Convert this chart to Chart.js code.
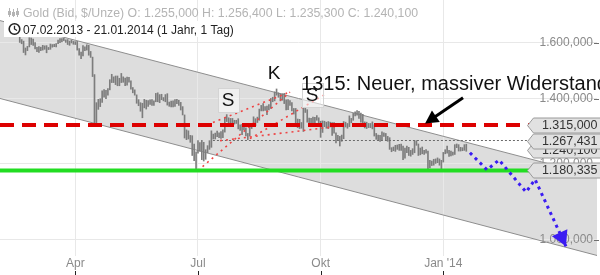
<!DOCTYPE html>
<html>
<head>
<meta charset="utf-8">
<script src="https://cdn.jsdelivr.net/npm/chart.js@4.4.1/dist/chart.umd.min.js"></script>
<style>
  html, body { margin: 0; padding: 0; background: #fff; }
  #wrap { width: 600px; height: 275px; position: relative; }
</style>
</head>
<body>
<div id="wrap"><canvas id="c" width="600" height="275"></canvas></div>
<script>
// Gold (Bid, $/Unze) daily ranges, 07.02.2013 - 21.01.2014
const firstDay = '2013-02-07';
const lastDay = '2014-01-21';
const holidays = ['2013-02-18', '2013-03-29', '2013-05-27', '2013-07-04', '2013-09-02',
                  '2013-11-28', '2013-12-25', '2014-01-01', '2014-01-20'];

const highs = [
  1680, 1672,
  1667, 1652, 1652, 1646, 1638,
  1612, 1606, 1580, 1586,
  1619, 1618, 1614, 1600, 1582,
  1585, 1583, 1590, 1588, 1589,
  1582, 1595, 1593, 1594, 1597,
  1610, 1616, 1616, 1617, 1611,
  1612, 1606, 1610, 1605,
  1604, 1605, 1578, 1565, 1589,
  1584, 1592, 1590, 1567, 1546,
  1483, 1387, 1398, 1400, 1427,
  1431, 1428, 1434, 1465, 1484,
  1475, 1478, 1478, 1470, 1487,
  1475, 1471, 1474, 1473, 1461,
  1438, 1430, 1413, 1397, 1387,
  1385, 1398, 1395, 1394, 1396,
  1397, 1393, 1418, 1420,
  1414, 1415, 1404, 1414, 1417,
  1389, 1392, 1393, 1397, 1398,
  1395, 1388, 1374, 1347, 1300,
  1297, 1283, 1282, 1257, 1234,
  1267, 1261, 1268, 1262,
  1240, 1252, 1267, 1297, 1287,
  1290, 1296, 1291, 1295, 1300,
  1337, 1348, 1338, 1336, 1336,
  1330, 1330, 1335, 1316, 1317,
  1314, 1306, 1289, 1315, 1320,
  1341, 1335, 1340, 1366, 1378,
  1384, 1374, 1376, 1381, 1401,
  1405, 1423, 1433, 1420, 1417,
  1417, 1418, 1396, 1397,
  1394, 1387, 1368, 1368, 1334,
  1333, 1323, 1371, 1372, 1364,
  1337, 1336, 1340, 1339, 1345,
  1338, 1327, 1328, 1327, 1324,
  1326, 1324, 1323, 1323, 1291,
  1283, 1280, 1284, 1326, 1324,
  1320, 1344, 1336, 1352, 1357,
  1361, 1359, 1353, 1349, 1325,
  1324, 1320, 1320, 1325, 1316,
  1289, 1284, 1283, 1294, 1291,
  1289, 1280, 1276, 1246, 1248,
  1253, 1254, 1256, 1257,
  1251, 1245, 1251, 1247, 1238,
  1243, 1266, 1267, 1257, 1245,
  1248, 1238, 1240, 1236, 1209,
  1207, 1212, 1213, 1216,
  1213, 1209, 1232, 1240,
  1251, 1238, 1236, 1233, 1255,
  1257, 1255, 1247, 1246, 1255,
  1256.4
];

const lows = [
  1664, 1661,
  1643, 1640, 1641, 1632, 1601,
  1596, 1563, 1554, 1570,
  1584, 1593, 1590, 1576, 1566,
  1563, 1570, 1572, 1575, 1562,
  1574, 1575, 1583, 1585, 1584,
  1596, 1600, 1603, 1608, 1601,
  1593, 1590, 1599, 1594,
  1593, 1572, 1553, 1540, 1550,
  1570, 1572, 1553, 1545, 1476,
  1322, 1321, 1365, 1374, 1388,
  1405, 1400, 1412, 1430, 1455,
  1455, 1448, 1444, 1444, 1455,
  1456, 1444, 1446, 1456, 1432,
  1420, 1412, 1385, 1377, 1359,
  1338, 1370, 1366, 1375, 1381,
  1378, 1378, 1390, 1390,
  1387, 1397, 1393, 1390, 1379,
  1375, 1373, 1373, 1375, 1384,
  1378, 1363, 1347, 1275, 1270,
  1272, 1262, 1223, 1208, 1180,
  1230, 1236, 1211, 1207,
  1212, 1231, 1241, 1247, 1272,
  1272, 1279, 1276, 1274, 1276,
  1293, 1326, 1314, 1312, 1316,
  1318, 1320, 1303, 1298, 1285,
  1300, 1281, 1270, 1281, 1304,
  1310, 1313, 1323, 1330, 1360,
  1360, 1362, 1348, 1363, 1368,
  1390, 1393, 1412, 1405, 1393,
  1395, 1384, 1363, 1364,
  1378, 1360, 1350, 1320, 1307,
  1304, 1305, 1295, 1355, 1324,
  1313, 1316, 1318, 1316, 1330,
  1318, 1277, 1292, 1310, 1305,
  1304, 1309, 1283, 1290, 1260,
  1268, 1251, 1265, 1273, 1309,
  1305, 1310, 1322, 1330, 1344,
  1346, 1336, 1324, 1318, 1306,
  1304, 1307, 1307, 1303, 1281,
  1271, 1267, 1265, 1270, 1280,
  1270, 1265, 1241, 1234, 1237,
  1235, 1241, 1238, 1238,
  1211, 1215, 1231, 1223, 1221,
  1226, 1231, 1253, 1223, 1225,
  1228, 1226, 1230, 1185, 1187,
  1194, 1195, 1200, 1202,
  1195, 1182, 1204, 1228,
  1230, 1220, 1222, 1224, 1226,
  1246, 1236, 1236, 1237, 1238,
  1235.3
];

const lastBar = { open: 1255.0, high: 1256.4, low: 1235.3, close: 1240.1 };

// x axis: trading-day index, quarter ticks
const axisTickDates = ['2013-04-01', '2013-07-01', '2013-10-01', '2014-01-02'];
const axisTickLabels = ['Apr', 'Jul', 'Okt', "Jan '14"];
const xMin = -4.3, xMax = 307.2;

// y axis: logarithmic price scale
const yTickValues = [1000, 1200, 1400, 1600];
const yMin = 962.6, yMax = 1771.3;

// drawn levels
const resistance = 1315.0;
const support = 1180.335;
const neckline = 1267.431;
const necklineStart = 106.8;

// falling channel (trading-day index / price at both ends)
const channelX = [xMin, xMax];
const channelUpper = [1686.5, 1163.6];
const channelLower = [1400.9, 963.8];

// head & shoulders construction lines
const patternStartX = [99.0, 106.8, 126.1, 110.5];
const patternStartY = [1180, 1323, 1273, 1267];
const patternEndX = [147.0, 145.5, 166.3, 170.5];
const patternEndY = [1422, 1419, 1419, 1310];

// projected path
const projectionX = [240.9, 249.8, 256.1, 270.2, 274.9, 291.0];
const projectionY = [1231, 1182, 1210, 1121, 1155, 985];

// pointer to the resistance
const pointerFrom = [237.3, 1403];
const pointerTo = [217.5, 1320];

// labels placed at chart coordinates
const notes = [
  { text: 'S', x: 114.7, y: 1396, boxed: true },
  { text: 'K', x: 138.7, y: 1490, boxed: false },
  { text: 'S', x: 158.5, y: 1413, boxed: true }
];
const headline = { text: '1315: Neuer, massiver Widerstand', x: 152.8, y: 1450 };

const FONT = '"Liberation Sans", Arial, Helvetica, sans-serif';

function buildTradingDays(first, last, skip) {
  const out = [];
  const d = new Date(first + 'T00:00:00Z');
  const end = new Date(last + 'T00:00:00Z');
  while (d <= end) {
    const wd = d.getUTCDay();
    const iso = d.toISOString().slice(0, 10);
    if (wd !== 0 && wd !== 6 && !skip.includes(iso)) out.push(iso);
    d.setUTCDate(d.getUTCDate() + 1);
  }
  return out;
}

function fmt(v) {
  const parts = v.toFixed(3).split('.');
  return parts[0].replace(/\B(?=(\d{3})+(?!\d))/g, '.') + ',' + parts[1];
}

function fmtDate(iso) {
  const p = iso.split('-');
  return p[2] + '.' + p[1] + '.' + p[0];
}

const tradingDays = buildTradingDays(firstDay, lastDay, holidays);
const tickIdx = axisTickDates.map(d => tradingDays.indexOf(d));
const ranges = tradingDays.map((d, i) => ({ x: i, y: [lows[i], highs[i]] }));

const seg = (x0, y0, x1, y1) => [{ x: x0, y: y0 }, { x: x1, y: y1 }];

const datasets = [
  { type: 'line', data: seg(channelX[0], channelUpper[0], channelX[1], channelUpper[1]),
    borderColor: '#8e8e8e', borderWidth: 1, pointRadius: 0, fill: false, order: 20 },
  { type: 'line', data: seg(channelX[0], channelLower[0], channelX[1], channelLower[1]),
    borderColor: '#8e8e8e', borderWidth: 1, pointRadius: 0, fill: false, order: 19 },
  { type: 'bar', data: ranges, backgroundColor: '#7d7d7d', borderWidth: 0,
    barThickness: 1, order: 18 },
  { type: 'line', data: seg(necklineStart, neckline, xMax, neckline),
    borderColor: '#6a6a6a', borderWidth: 1, borderDash: [2, 2], pointRadius: 0, order: 17 }
];
patternStartX.forEach((x0, i) => {
  datasets.push({ type: 'line', data: seg(x0, patternStartY[i], patternEndX[i], patternEndY[i]),
    borderColor: '#ee4444', borderWidth: 1.6, borderDash: [2, 4], pointRadius: 0, order: 16 });
});
datasets.push(
  { type: 'line', data: seg(xMin, resistance, xMax, resistance),
    borderColor: '#dd0000', borderWidth: 4, borderDash: [14, 8], pointRadius: 0, order: 5 },
  { type: 'line', data: seg(xMin, support, xMax, support),
    borderColor: '#22dd22', borderWidth: 4, pointRadius: 0, order: 4 },
  { type: 'line', data: projectionX.map((x, i) => ({ x, y: projectionY[i] })),
    borderColor: '#3b1cf2', borderWidth: 3, borderDash: [3, 4], pointRadius: 0,
    tension: 0, order: 3 }
);

function arrowHead(ctx, x0, y0, x1, y1, len, half, color) {
  const a = Math.atan2(y1 - y0, x1 - x0);
  ctx.fillStyle = color;
  ctx.beginPath();
  ctx.moveTo(x1, y1);
  ctx.lineTo(x1 - len * Math.cos(a) + half * Math.sin(a), y1 - len * Math.sin(a) - half * Math.cos(a));
  ctx.lineTo(x1 - len * Math.cos(a) - half * Math.sin(a), y1 - len * Math.sin(a) + half * Math.cos(a));
  ctx.closePath();
  ctx.fill();
}

function valueBox(ctx, right, py, text) {
  const yc = Math.round(py) + 0.5;
  const tip = right - 69.5, body = right - 63.5;
  ctx.beginPath();
  ctx.moveTo(tip, yc);
  ctx.lineTo(body, yc - 7.5);
  ctx.lineTo(right + 10, yc - 7.5);
  ctx.lineTo(right + 10, yc + 7.5);
  ctx.lineTo(body, yc + 7.5);
  ctx.closePath();
  ctx.fillStyle = '#e1e1e1';
  ctx.fill();
  ctx.strokeStyle = '#9a9a9a';
  ctx.lineWidth = 1;
  ctx.stroke();
  ctx.fillStyle = '#333';
  ctx.font = '12.5px ' + FONT;
  ctx.textAlign = 'right';
  ctx.textBaseline = 'middle';
  ctx.fillText(text, right + 0.5, yc + 0.5);
}

// grey band between the two channel lines, painted underneath the grid
const channelFill = {
  id: 'channelFill',
  beforeDraw(chart) {
    const up = chart.getDatasetMeta(0).data;
    const lo = chart.getDatasetMeta(1).data;
    const { ctx, chartArea: a } = chart;
    ctx.save();
    ctx.beginPath();
    ctx.rect(a.left, a.top, a.right - a.left, a.bottom - a.top);
    ctx.clip();
    ctx.beginPath();
    up.forEach((p, i) => (i ? ctx.lineTo(p.x, p.y) : ctx.moveTo(p.x, p.y)));
    for (let i = lo.length - 1; i >= 0; i--) ctx.lineTo(lo[i].x, lo[i].y);
    ctx.closePath();
    ctx.fillStyle = '#dddddd';
    ctx.fill();
    ctx.restore();
  }
};

const overlay = {
  id: 'overlay',
  beforeDatasetsDraw(chart) {
    const { ctx, chartArea, scales } = chart;
    const y = scales.y;
    ctx.save();
    ctx.font = '12px ' + FONT;
    ctx.fillStyle = '#8a8a8a';
    ctx.textAlign = 'right';
    ctx.textBaseline = 'middle';
    y.ticks.forEach(t => {
      const py = y.getPixelForValue(t.value);
      ctx.fillText(fmt(t.value), chartArea.right - 4, py);
      ctx.strokeStyle = '#707070';
      ctx.lineWidth = 1;
      ctx.beginPath();
      ctx.moveTo(chartArea.right - 3, Math.round(py) + 0.5);
      ctx.lineTo(chartArea.right + 2, Math.round(py) + 0.5);
      ctx.stroke();
    });
    ctx.restore();
  },
  afterDatasetsDraw(chart) {
    const { ctx, chartArea, scales } = chart;
    const x = scales.x, y = scales.y;
    const px = v => x.getPixelForValue(v);
    const py = v => y.getPixelForValue(v);
    ctx.save();

    // arrow head of the projected path
    const n = projectionX.length;
    arrowHead(ctx, px(projectionX[n - 2]), py(projectionY[n - 2]),
              px(projectionX[n - 1]), py(projectionY[n - 1]), 15, 8.5, '#3b1cf2');

    // value boxes on the price axis
    valueBox(ctx, chartArea.right, py(lastBar.close), fmt(lastBar.close));
    valueBox(ctx, chartArea.right, py(neckline), fmt(neckline));
    valueBox(ctx, chartArea.right, py(resistance), fmt(resistance));
    valueBox(ctx, chartArea.right, py(support), fmt(support));

    // pattern labels
    ctx.font = '19px ' + FONT;
    ctx.textAlign = 'center';
    ctx.textBaseline = 'middle';
    notes.forEach(n2 => {
      const cx = px(n2.x), cy = py(n2.y);
      if (n2.boxed) {
        const w = ctx.measureText(n2.text).width + 8;
        ctx.fillStyle = 'rgba(255,255,255,0.55)';
        ctx.fillRect(Math.round(cx - w / 2) + 0.5, Math.round(cy - 12) + 0.5, Math.round(w), 24);
        ctx.strokeStyle = '#d4d4d4';
        ctx.lineWidth = 1;
        ctx.strokeRect(Math.round(cx - w / 2) + 0.5, Math.round(cy - 12) + 0.5, Math.round(w), 24);
      }
      ctx.fillStyle = '#111';
      ctx.fillText(n2.text, cx, cy + 1);
    });

    // resistance comment with pointer
    ctx.font = '20px ' + FONT;
    ctx.textAlign = 'left';
    ctx.fillStyle = '#111';
    ctx.fillText(headline.text, px(headline.x), py(headline.y));

    const ax0 = px(pointerFrom[0]), ay0 = py(pointerFrom[1]);
    const ax1 = px(pointerTo[0]), ay1 = py(pointerTo[1]);
    const ang = Math.atan2(ay1 - ay0, ax1 - ax0);
    ctx.strokeStyle = '#000';
    ctx.lineWidth = 3;
    ctx.beginPath();
    ctx.moveTo(ax0, ay0);
    ctx.lineTo(ax1 - 8 * Math.cos(ang), ay1 - 8 * Math.sin(ang));
    ctx.stroke();
    arrowHead(ctx, ax0, ay0, ax1, ay1, 13, 7, '#000');
    ctx.restore();
  },
  afterDraw(chart) {
    const { ctx, scales } = chart;
    const x = scales.x;
    ctx.save();

    // small tick marks under the month labels
    ctx.strokeStyle = '#222';
    ctx.lineWidth = 1;
    x.ticks.forEach(t => {
      const p = Math.round(x.getPixelForValue(t.value)) + 0.5;
      ctx.beginPath();
      ctx.moveTo(p, chart.height - 4);
      ctx.lineTo(p, chart.height);
      ctx.stroke();
    });

    // header: instrument and last bar
    ctx.font = '12.3px ' + FONT;
    ctx.textAlign = 'left';
    ctx.textBaseline = 'alphabetic';
    const head1 = 'Gold (Bid, $/Unze) O: ' + fmt(lastBar.open) + ' H: ' + fmt(lastBar.high) +
                  ' L: ' + fmt(lastBar.low) + ' C: ' + fmt(lastBar.close);
    ctx.fillStyle = '#b4b4b4';
    ctx.fillText(head1, 23, 16.5);
    // candle icon
    ctx.strokeStyle = '#b4b4b4';
    [9.5, 13.5, 17.5].forEach((ix, k) => {
      ctx.beginPath();
      ctx.moveTo(ix, 8 + k % 2);
      ctx.lineTo(ix, 17);
      ctx.stroke();
      ctx.fillStyle = '#b4b4b4';
      ctx.fillRect(ix - 1.5, 11 + (k % 2), 3, 4);
    });

    // header: period
    const head2 = fmtDate(firstDay) + ' - ' + fmtDate(lastDay) + ' (1 Jahr, 1 Tag)';
    ctx.font = '12px ' + FONT;
    const w2 = ctx.measureText(head2).width;
    ctx.fillStyle = '#fff';
    ctx.fillRect(4, 21, 23 + w2 - 2, 16);
    ctx.fillStyle = '#222';
    ctx.fillText(head2, 23, 33.5);
    // clock icon
    ctx.strokeStyle = '#222';
    ctx.lineWidth = 1.6;
    ctx.beginPath();
    ctx.arc(14.5, 29, 5.3, 0, Math.PI * 2);
    ctx.stroke();
    ctx.lineWidth = 1.3;
    ctx.beginPath();
    ctx.moveTo(14.5, 25.8);
    ctx.lineTo(14.5, 29);
    ctx.lineTo(17, 30.5);
    ctx.stroke();
    ctx.restore();
  }
};

new Chart(document.getElementById('c'), {
  type: 'bar',
  data: { datasets },
  plugins: [channelFill, overlay],
  options: {
    responsive: false,
    animation: false,
    devicePixelRatio: 1,
    events: [],
    layout: { padding: { left: 0, right: 3, top: 0, bottom: 2 } },
    plugins: {
      legend: { display: false },
      tooltip: { enabled: false }
    },
    scales: {
      x: {
        type: 'linear',
        min: xMin,
        max: xMax,
        offset: false,
        afterBuildTicks: s => { s.ticks = tickIdx.map(v => ({ value: v })); },
        afterFit: s => { s.height = 17; },
        grid: { color: '#e8e8e8', drawTicks: false, offset: false },
        border: { display: false },
        ticks: {
          autoSkip: false,
          maxRotation: 0,
          padding: 0,
          color: '#8a8a8a',
          font: { family: FONT, size: 12 },
          callback: v => axisTickLabels[tickIdx.indexOf(v)]
        }
      },
      y: {
        type: 'logarithmic',
        position: 'right',
        min: yMin,
        max: yMax,
        afterBuildTicks: s => { s.ticks = yTickValues.map(v => ({ value: v })); },
        afterFit: s => { s.width = 0; },
        grid: { color: '#e8e8e8', drawTicks: false },
        border: { display: false },
        ticks: { display: false }
      }
    }
  }
});
</script>
</body>
</html>
